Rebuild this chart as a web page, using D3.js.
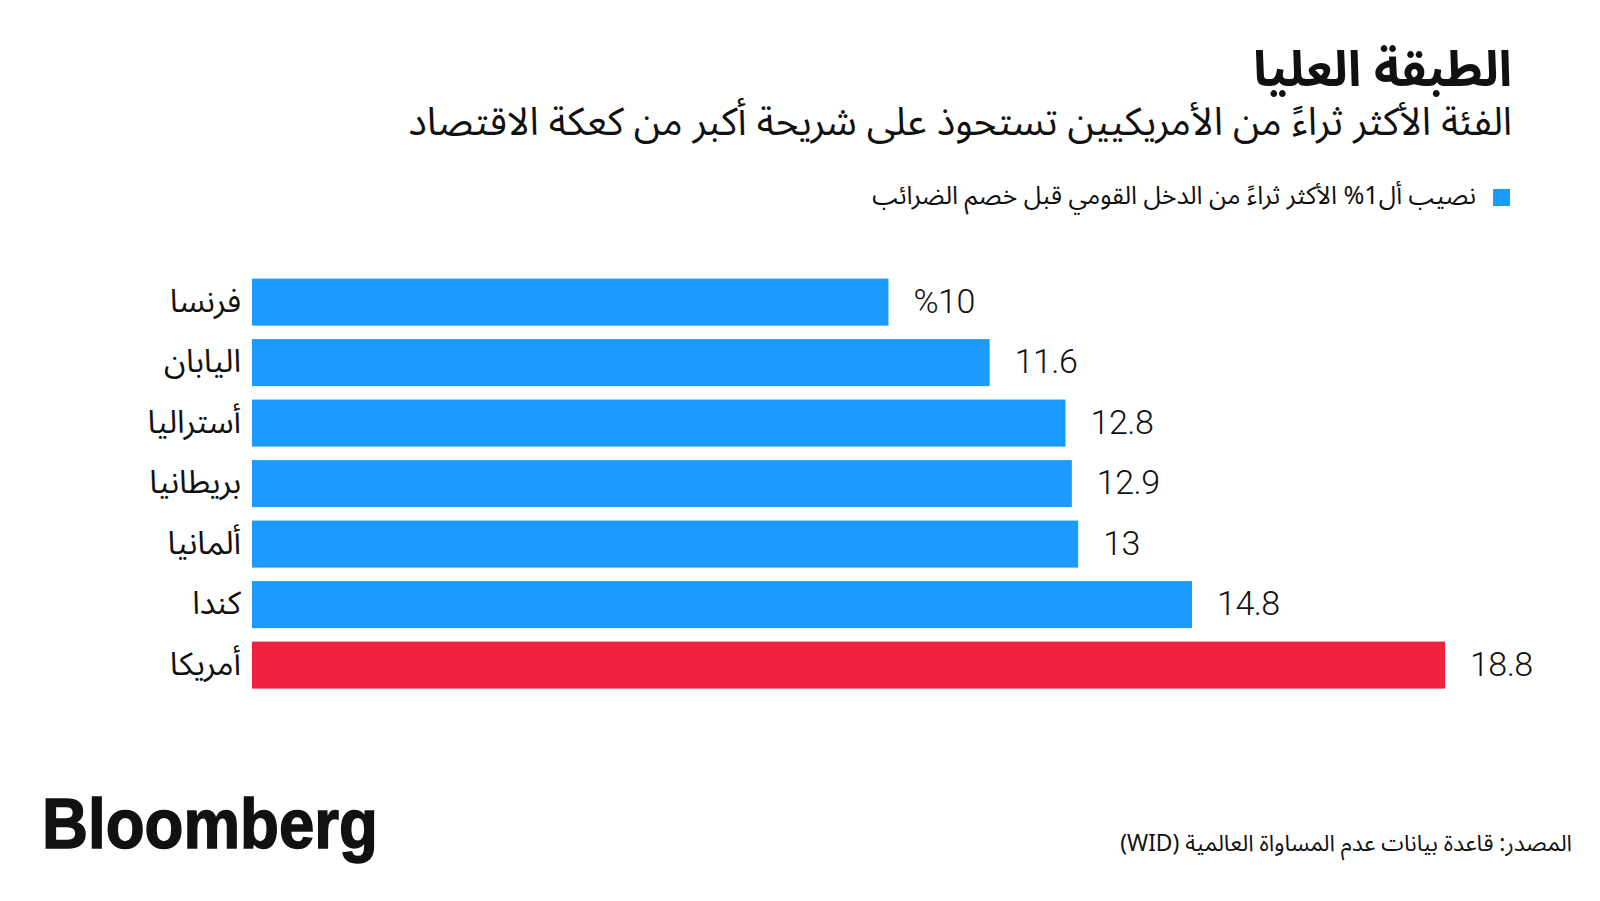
<!DOCTYPE html>
<html lang="ar">
<head>
<meta charset="utf-8">
<script src="https://cdn.jsdelivr.net/npm/d3@7"></script>
<style>
  html, body { margin: 0; padding: 0; background: #fff; }
  svg { display: block; }
  .ar { font-family: "Noto Sans Arabic", "DejaVu Sans", sans-serif; fill: #111; }
  .num { font-family: Roboto, "Liberation Sans", sans-serif; font-weight: 300; fill: #111; }
</style>
</head>
<body>
<div id="chart"></div>
<script>
// DATA
const countries = ["فرنسا", "اليابان", "أستراليا", "بريطانيا", "ألمانيا", "كندا", "أمريكا"];
const shares = [10, 11.6, 12.8, 12.9, 13, 14.8, 18.8];
const valueLabels = ["%10", "11.6", "12.8", "12.9", "13", "14.8", "18.8"];
const highlight = "أمريكا";

const titleText = "الطبقة العليا";
const subtitleText = "الفئة الأكثر ثراءً من الأمريكيين تستحوذ على شريحة أكبر من كعكة الاقتصاد";
const legendText = "نصيب أل1% الأكثر ثراءً من الدخل القومي قبل خصم الضرائب";
const sourceText = "المصدر: قاعدة بيانات عدم المساواة العالمية (WID)";

const W = 1600, H = 901;
const BLUE = "#1b9bfd", RED = "#ee213f";

const svg = d3.select("#chart").append("svg")
  .attr("width", W).attr("height", H);

// shrink/grow a text node's font-size so it spans a given width
const fitWidth = (sel, target) => {
  const node = sel.node();
  const fs = parseFloat(sel.attr("font-size"));
  const w = node.getComputedTextLength();
  if (w > 0) sel.attr("font-size", (fs * target / w).toFixed(2));
};

// right-aligned arabic text (rtl: "start" sits on the right edge)
const arText = (xPos, yPos, size, txt) => svg.append("text").attr("class", "ar")
  .attr("x", xPos).attr("y", yPos)
  .attr("direction", "rtl").attr("text-anchor", "start")
  .attr("font-size", size)
  .text(txt);

// HEADER
const title = arText(1512, 86, 44, titleText).attr("font-weight", 700);
fitWidth(title, 259);

const subtitle = arText(1512, 135, 34, subtitleText);
fitWidth(subtitle, 1104);

// LEGEND
svg.append("rect")
  .attr("x", 1493).attr("y", 189)
  .attr("width", 17).attr("height", 17)
  .attr("fill", BLUE);

const legend = arText(1476, 204, 24, legendText);
fitWidth(legend, 604);

// SCALES
const x = d3.scaleLinear()
  .domain([0, 18.8])
  .range([256, 1445]);

const y = d3.scaleBand()
  .domain(countries)
  .range([278.6, 688.6])
  .paddingInner(0.223)
  .paddingOuter(0);

const rows = countries.map((c, i) => ({ country: c, value: shares[i], label: valueLabels[i] }));

// BARS
svg.append("g").selectAll("rect")
  .data(rows)
  .join("rect")
  .attr("x", x(0) - 4)
  .attr("y", d => y(d.country))
  .attr("width", d => x(d.value) - x(0) + 4)
  .attr("height", y.bandwidth())
  .attr("fill", d => d.country === highlight ? RED : BLUE);

// COUNTRY LABELS
const yAxis = d3.axisLeft(y).tickSize(0).tickPadding(11);
const gy = svg.append("g")
  .attr("transform", `translate(${x(0) - 4},0)`)
  .call(yAxis);
gy.select(".domain").remove();
gy.selectAll("text")
  .attr("class", "ar")
  .attr("font-size", 32)
  .attr("direction", "rtl")
  .attr("text-anchor", "start")
  .attr("dy", "0.3em");

// VALUE LABELS
svg.append("g").selectAll("text")
  .data(rows)
  .join("text")
  .attr("class", "num")
  .attr("x", d => x(d.value) + 25)
  .attr("y", d => y(d.country) + y.bandwidth() / 2)
  .attr("dy", "0.32em")
  .attr("font-size", 34)
  .attr("letter-spacing", -0.5)
  .text(d => d.label);

// FOOTER
svg.append("text")
  .attr("x", 42).attr("y", 848)
  .attr("font-family", "'Liberation Sans', Arial, sans-serif")
  .attr("font-weight", 700)
  .attr("font-size", 70)
  .attr("fill", "#111")
  .attr("stroke", "#111")
  .attr("stroke-width", 1.5)
  .attr("textLength", 336)
  .attr("lengthAdjust", "spacingAndGlyphs")
  .text("Bloomberg");

const source = arText(1572, 851, 22, sourceText);
fitWidth(source, 452);
</script>
</body>
</html>
